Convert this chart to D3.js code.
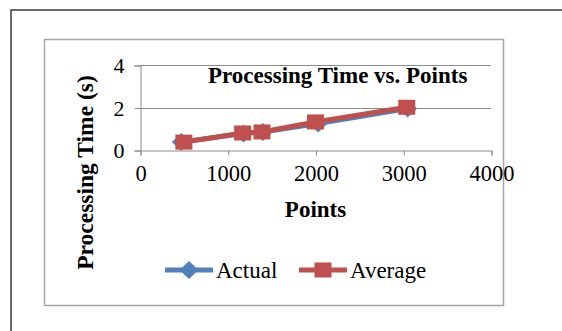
<!DOCTYPE html>
<html>
<head>
<meta charset="utf-8">
<script src="https://cdn.jsdelivr.net/npm/d3@7"></script>
<style>
  html, body { margin: 0; padding: 0; background: #fff; }
  svg { display: block; }
  text { font-family: "Liberation Serif", "Times New Roman", serif; fill: #000; }
</style>
</head>
<body>
<svg id="chart" width="562" height="331"></svg>
<script>
// Series data (x = number of points, y = processing time in seconds)
const actualX = [470, 1180, 1400, 2030, 3050];
const actualY = [0.38, 0.78, 0.85, 1.25, 1.95];
const averageX = [500, 1170, 1390, 2000, 3040];
const averageY = [0.37, 0.80, 0.85, 1.32, 2.01];
const xTicks = [0, 1000, 2000, 3000, 4000];
const yTicks = [0, 2, 4];
const seriesNames = ["Actual", "Average"];

const colors = { Actual: "#4F81BD", Average: "#C0504D" };

const svg = d3.select("#chart");

// outer frame (left and top edges visible)
svg.append("path")
  .attr("d", "M11,331 L11,10 L562,10")
  .attr("fill", "none").attr("stroke", "#3a3a3a").attr("stroke-width", 1.5);

// chart box
svg.append("rect")
  .attr("x", 44.5).attr("y", 39.5).attr("width", 459).attr("height", 266)
  .attr("fill", "#fff").attr("stroke", "#a6a6a6").attr("stroke-width", 1.5);

const x = d3.scaleLinear().domain([0, 4000]).range([140, 491]);
const y = d3.scaleLinear().domain([0, 4]).range([150, 65]);

// horizontal gridlines
svg.append("g").selectAll("line")
  .data(yTicks.filter(d => d !== 0))
  .join("line")
  .attr("x1", x(0)).attr("x2", x(4000))
  .attr("y1", d => Math.round(y(d)) + 0.5).attr("y2", d => Math.round(y(d)) + 0.5)
  .attr("stroke", "#8c8c8c").attr("stroke-width", 1);

// y axis
const yAxis = svg.append("g")
  .attr("transform", `translate(${x(0) + 0.5},0.5)`)
  .call(d3.axisLeft(y).tickValues(yTicks).tickSize(6).tickPadding(10).tickFormat(d3.format("d")));
yAxis.select(".domain").attr("stroke", "#8c8c8c");
yAxis.selectAll(".tick line").attr("stroke", "#8c8c8c");
yAxis.selectAll("text")
  .style("font-family", "Liberation Serif, serif").style("font-size", "22px").attr("fill", "#000");

// x axis
const xAxis = svg.append("g")
  .attr("transform", `translate(0.5,${y(0) + 0.5})`)
  .call(d3.axisBottom(x).tickValues(xTicks).tickSize(5).tickPadding(10).tickFormat(d3.format("d")));
xAxis.select(".domain").attr("stroke", "#8c8c8c");
xAxis.selectAll(".tick line").attr("stroke", "#8c8c8c");
xAxis.selectAll("text")
  .style("font-family", "Liberation Serif, serif").style("font-size", "22.5px").attr("fill", "#000");

// chart title
svg.append("text")
  .attr("x", 208).attr("y", 83)
  .style("font-size", "23px").style("font-weight", "bold")
  .text("Processing Time vs. Points");

// axis titles
svg.append("text")
  .attr("x", 315.5).attr("y", 217).attr("text-anchor", "middle")
  .style("font-size", "23px").style("font-weight", "bold")
  .text("Points");

svg.append("text")
  .attr("transform", "translate(93,172.5) rotate(-90)")
  .attr("text-anchor", "middle")
  .style("font-size", "23.5px").style("font-weight", "bold")
  .text("Processing Time (s)");

const series = [
  { name: "Actual", pts: actualX.map((v, i) => [v, actualY[i]]) },
  { name: "Average", pts: averageX.map((v, i) => [v, averageY[i]]) }
];

const line = d3.line().x(d => x(d[0])).y(d => y(d[1]));

function drawMarker(g, name, cx, cy) {
  if (name === "Actual") {
    g.append("path")
      .attr("d", `M${cx},${cy - 9} L${cx + 9.5},${cy} L${cx},${cy + 9} L${cx - 9.5},${cy} Z`)
      .attr("fill", colors.Actual);
  } else {
    g.append("rect")
      .attr("x", cx - 8.5).attr("y", cy - 7.5).attr("width", 17).attr("height", 15)
      .attr("fill", colors.Average);
  }
}

series.forEach(s => {
  const g = svg.append("g");
  g.append("path")
    .attr("d", line(s.pts))
    .attr("fill", "none").attr("stroke", colors[s.name])
    .attr("stroke-width", 5).attr("stroke-linejoin", "round");
  s.pts.forEach(p => drawMarker(g, s.name, x(p[0]), y(p[1])));
});

// legend
const legendItems = [
  { name: seriesNames[0], x0: 165 },
  { name: seriesNames[1], x0: 299 }
];
legendItems.forEach(item => {
  const g = svg.append("g");
  g.append("line")
    .attr("x1", item.x0).attr("x2", item.x0 + 48)
    .attr("y1", 270).attr("y2", 270)
    .attr("stroke", colors[item.name]).attr("stroke-width", 5);
  drawMarker(g, item.name, item.x0 + 24, 270);
  g.append("text")
    .attr("x", item.x0 + 51).attr("y", 278)
    .style("font-size", "23px")
    .text(item.name);
});
</script>
</body>
</html>
